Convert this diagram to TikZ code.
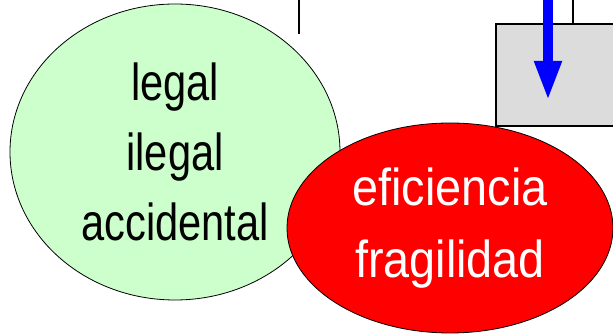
\documentclass[tikz,border=0pt]{standalone}
\usepackage{fontspec}
\setmainfont{Liberation Sans}
\newfontfamily\narrowfont[FakeStretch=0.8]{Liberation Sans}
\newfontfamily\redfont[FakeStretch=0.9]{Liberation Sans}
\usetikzlibrary{shapes.geometric,arrows.meta}
\definecolor{palegreen}{HTML}{CCFFCC}
\definecolor{boxgray}{HTML}{DCDCDC}
\tikzset{
    green-bubble/.style = {draw=black, fill=palegreen, ellipse, line width=0.8pt, inner sep=0pt,
        minimum width=330pt, minimum height=296pt, align=center,
        font=\narrowfont\fontsize{52}{70}\selectfont},
    red-bubble/.style = {draw=black, fill=red, ellipse, line width=0.8pt, inner sep=0pt,
        minimum width=326pt, minimum height=210pt, align=center, text=white,
        font=\redfont\fontsize{52}{72}\selectfont},
    grey-box/.style = {draw=black, fill=boxgray, line width=1.5pt},
    blue-arrow/.style = {draw=blue, line width=10pt, -{Triangle[length=40pt,width=25pt]}},
}

\begin{document}
\begin{tikzpicture}[x=1pt,y=-1pt]
\useasboundingbox (0,0) rectangle (613,336);
% box at the top right, cut by the edge
\draw[grey-box] (496,24) rectangle (618,126);
\coordinate (arrow-top) at (548,-2);
\coordinate (arrow-tip) at (548,101);
\draw[blue-arrow] (arrow-top) -- (arrow-tip);
% stubs of lines coming from above
\coordinate (stub-a-top) at (299,-2);
\coordinate (stub-a) at (299,34);
\coordinate (stub-b-top) at (573,-2);
\coordinate (stub-b) at (573,24);
\draw[line width=1.5pt] (stub-a-top) -- (stub-a);
\draw[line width=1.5pt] (stub-b-top) -- (stub-b);
% the two bubbles
\node[green-bubble] (kinds) at (175,152) {legal\\ilegal\\accidental};
\node[red-bubble] (effects) at (450,228) {eficiencia\\fragilidad};
\end{tikzpicture}
\end{document}
